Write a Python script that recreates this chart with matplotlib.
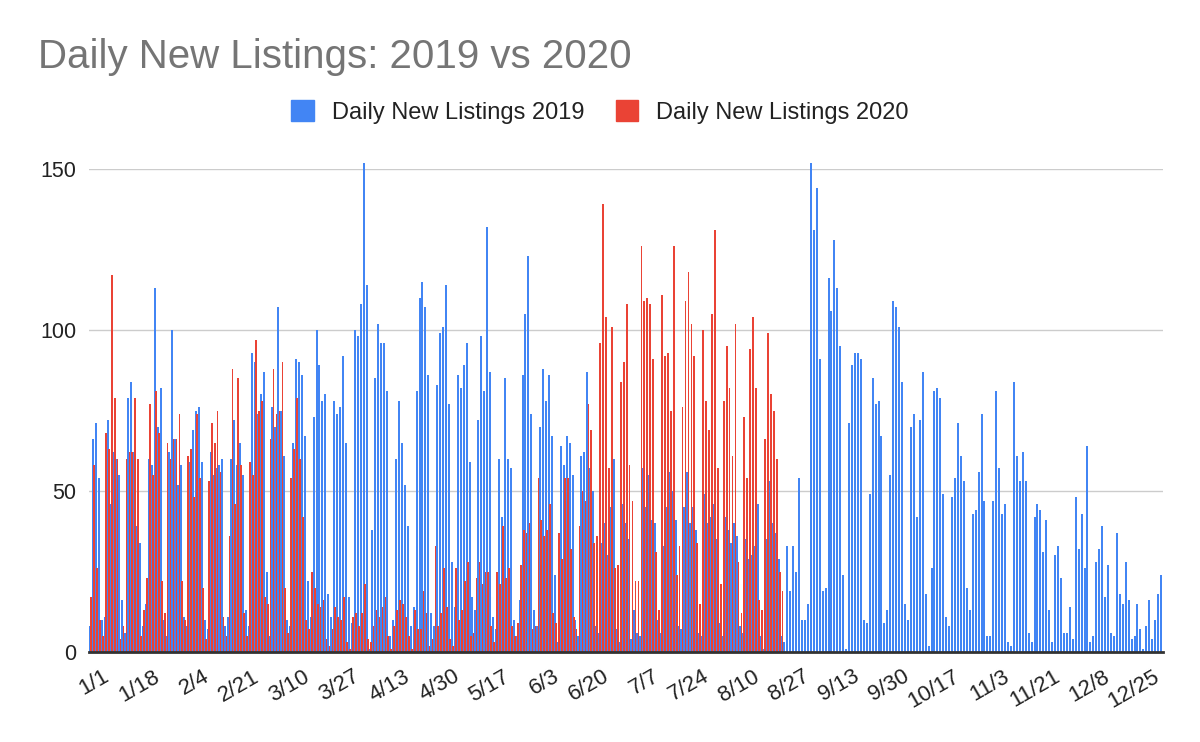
import matplotlib
matplotlib.use('Agg')
import matplotlib.pyplot as plt
from matplotlib.patches import Patch
from matplotlib.transforms import ScaledTranslation
import numpy as np

# daily counts, one value per day starting 1/1
listings_2019 = [
    8, 66, 71, 54, 10, 11, 72, 46, 62, 60, 55, 16, 6, 79, 84, 62, 39, 34, 8, 15,
    60, 58, 113, 70, 82, 10, 5, 62, 100, 66, 52, 58, 11, 8, 59, 69, 75, 76, 59, 10,
    7, 62, 55, 57, 58, 60, 8, 11,
    60, 72, 58, 65, 55, 13, 8, 93, 90, 74, 80, 87, 25, 5, 76, 70, 107, 75, 61, 10,
    8, 65, 91, 90, 86, 67, 22, 11, 73, 100, 89, 78, 80, 18, 11, 78, 74, 76, 92, 65,
    17, 9, 100, 98, 108, 152, 114,
    1, 38, 85, 102, 96, 96, 81, 5, 10, 60, 78, 65, 52, 39, 8, 14, 81, 110, 115, 107,
    86, 12, 8, 83, 99, 101, 114, 77, 28, 14, 86, 82, 89, 96, 59, 17, 13, 72, 98, 81,
    132, 87, 11, 7, 60, 42, 85,
    60, 57, 10, 5, 16, 86, 105, 123, 74, 13, 8, 70, 88, 78, 86, 67, 24, 3, 64, 58,
    67, 65, 55, 10, 5, 61, 62, 87, 57, 50, 8, 6, 34, 40, 30, 45, 60, 7, 3, 46,
    40, 35, 4, 13, 6, 5, 57,
    45, 55, 41, 40, 10, 6, 33, 45, 56, 50, 41, 8, 7, 45, 56, 40, 45, 38, 6, 5,
    49, 40, 42, 46, 35, 9, 5, 42, 38, 34, 40, 36, 8, 6, 35, 29, 30, 33, 46, 5,
    1, 35, 53, 40, 37, 29, 5,
    3, 33, 19, 33, 25, 54, 10, 10, 15, 152, 131, 144, 91, 19, 20, 116, 106, 128, 113, 95,
    24, 1, 71, 89, 93, 93, 91, 10, 9, 49, 85, 77, 78, 67, 9, 13, 55, 109, 107, 101,
    84, 15, 10, 70, 74, 42, 72, 87,
    18, 2, 26, 81, 82, 79, 49, 11, 8, 48, 54, 71, 61, 53, 20, 13, 43, 44, 56, 74,
    47, 5, 5, 47, 81, 57, 43, 46, 3, 2, 84, 61, 53, 62, 53, 6, 3, 42, 46, 44,
    31, 41, 13, 3, 30, 33, 23, 6,
    6, 14, 4, 48, 32, 43, 26, 64, 3, 5, 28, 32, 39, 17, 27, 6, 5, 37, 18, 15,
    28, 16, 4, 5, 15, 7, 1, 8, 16, 4, 10, 18, 24,
]

listings_2020 = [
    17, 58, 26, 10, 5, 68, 63, 117, 79, 60, 4, 8, 60, 62, 62, 79, 60, 5, 13, 23,
    77, 55, 81, 68, 22, 12, 65, 60, 66, 66, 74, 22, 10, 61, 63, 48, 74, 54, 20, 4,
    53, 71, 65, 75, 56, 11,
    5, 36, 88, 46, 85, 58, 12, 5, 59, 55, 97, 75, 78, 17, 15, 66, 88, 74, 75, 90,
    20, 6, 54, 63, 79, 60, 42, 10, 7, 25, 20, 15, 14, 16, 4, 2, 7, 14, 11, 10,
    17, 3, 1, 11, 12, 8, 12,
    21, 4, 3, 8, 13, 11, 14, 17, 5, 1, 8, 13, 16, 15, 11, 5, 1, 13, 7, 7,
    19, 12, 2, 4, 33, 8, 12, 26, 14, 4, 2, 26, 10, 13, 22, 28, 5, 6, 23, 28,
    21, 25, 25, 8, 3, 25, 21, 39, 23,
    26, 8, 5, 9, 27, 38, 37, 40, 7, 8, 54, 41, 36, 38, 46, 12, 9, 37, 29, 54,
    54, 32, 11, 7, 39, 50, 47, 77, 69, 34, 36, 96, 139, 104, 57, 101, 26, 27, 84, 90,
    108, 58, 47, 22, 22, 126, 109,
    110, 108, 91, 31, 13, 111, 92, 93, 75, 126, 24, 33, 76, 109, 118, 102, 92, 34, 15, 100,
    78, 69, 105, 131, 57, 21, 78, 95, 82, 61, 102, 28, 12, 73, 54, 94, 104, 82, 16, 13,
    66, 99, 80, 75, 60, 25, 19,
]

date_labels = ['1/1', '1/18', '2/4', '2/21', '3/10', '3/27', '4/13', '4/30', '5/17',
               '6/3', '6/20', '7/7', '7/24', '8/10', '8/27', '9/13', '9/30', '10/17',
               '11/3', '11/21', '12/8', '12/25']
label_step = 17

blue = '#4285F4'
red = '#EA4335'

plt.rcParams['font.family'] = ['Liberation Sans', 'DejaVu Sans']

fig = plt.figure(figsize=(12, 7.42), dpi=100)
ax = fig.add_axes([89/1200, 1 - 652/742, 1074/1200, (652 - 169)/742])

x19 = np.arange(len(listings_2019))
x20 = np.arange(len(listings_2020))
ax.bar(x19 - 0.17, listings_2019, width=0.68, color=blue, linewidth=0,
       antialiased=False, clip_on=False)
ax.bar(x20 + 0.22, listings_2020, width=0.58, color=red, linewidth=0,
       antialiased=False, clip_on=False)

ax.set_xlim(-0.5, len(listings_2019) - 0.5)
ax.set_ylim(0, 150)
ax.set_yticks([0, 50, 100, 150])
ax.grid(axis='y', color='#cccccc', linewidth=1.0)
ax.set_axisbelow(True)
for s in ['top', 'right', 'left']:
    ax.spines[s].set_visible(False)
ax.spines['bottom'].set_color('#333333')
ax.spines['bottom'].set_linewidth(2)
ax.spines['bottom'].set_zorder(5)
ax.tick_params(axis='y', length=0, pad=9, labelsize=15.5, labelcolor='#222222')
ax.set_xticks([])

# slanted date labels, ending just right of their day
shift = ScaledTranslation(12/100, -14/100, fig.dpi_scale_trans)
for i, lab in enumerate(date_labels):
    ax.text(i * label_step, 0, lab, transform=ax.get_xaxis_transform() + shift,
            rotation=30, rotation_mode='anchor', ha='right', va='top',
            fontsize=16, color='#222222')

fig.text(38/1200, 1 - 68/742, 'Daily New Listings: 2019 vs 2020', fontsize=29,
         color='#757575', ha='left', va='baseline')

handles = [Patch(color=blue, label='Daily New Listings 2019'),
           Patch(color=red, label='Daily New Listings 2020')]
leg = fig.legend(handles=handles, loc='center', bbox_to_anchor=(0.5, 1 - 112/742),
                 ncol=2, frameon=False, fontsize=17, handlelength=0.95,
                 handleheight=0.95, handletextpad=0.75, columnspacing=1.35)
for t in leg.get_texts():
    t.set_color('#222222')

fig.savefig('out.png', dpi=100)
